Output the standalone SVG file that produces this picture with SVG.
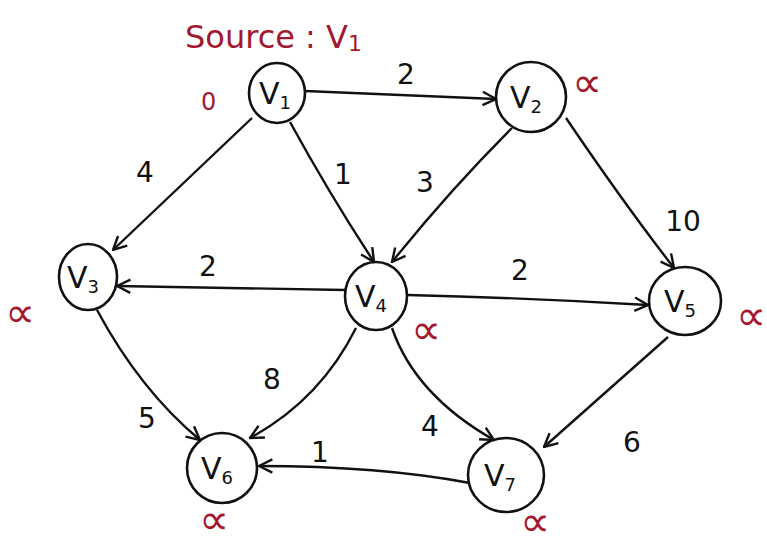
<svg xmlns="http://www.w3.org/2000/svg" width="767" height="548" viewBox="0 0 767 548">
<style>
.node{fill:none;stroke:#111;stroke-width:2.6}
.lbl{font-family:"DejaVu Sans",sans-serif;font-size:30px;fill:#111}
.sub{font-size:18px}
.edge{fill:none;stroke:#111;stroke-width:2.4;marker-end:url(#arr)}
.w{font-family:"DejaVu Sans",sans-serif;font-size:28px;fill:#111;text-anchor:middle}
.red{font-family:"DejaVu Sans",sans-serif;fill:#a3182f}
.inf{font-family:"DejaVu Sans",sans-serif;fill:#a3182f;font-size:42px}
</style>
<defs>
<marker id="arr" viewBox="0 0 12 12" refX="11" refY="6" markerWidth="16" markerHeight="16" markerUnits="userSpaceOnUse" orient="auto">
<path d="M1,1 L11,6 L1,11" fill="none" stroke="#111" stroke-width="1.8"/>
</marker>
</defs>
<rect width="767" height="548" fill="#fff"/>
<text class="red" x="185" y="48" font-size="32">Source  : V<tspan font-size="22" dy="3">1</tspan></text>
<text class="red" x="201" y="110" font-size="24">0</text>
<text class="inf" x="572" y="97">∝</text>
<text class="inf" x="5" y="327">∝</text>
<text class="inf" x="411" y="344">∝</text>
<text class="inf" x="736" y="330">∝</text>
<text class="inf" x="199" y="534">∝</text>
<text class="inf" x="520" y="536">∝</text>
<g id="connectors">
<path class="edge" d="M305,91 Q400,95 496,99"/>
<path class="edge" d="M252,118 L113,250"/>
<path class="edge" d="M290,122 Q330,195 374,262"/>
<path class="edge" d="M512,128 Q450,190 392,262"/>
<path class="edge" d="M566,118 Q625,205 674,268"/>
<path class="edge" d="M345,290 L117,286"/>
<path class="edge" d="M408,295 Q530,298 648,305"/>
<path class="edge" d="M97,310 Q140,390 200,440"/>
<path class="edge" d="M356,328 Q320,400 250,438"/>
<path class="edge" d="M392,328 Q415,395 494,440"/>
<path class="edge" d="M668,337 L544,447"/>
<path class="edge" d="M470,483 Q380,466 259,466"/>
<text class="w" x="406" y="84">2</text>
<text class="w" x="145" y="182">4</text>
<text class="w" x="343" y="184">1</text>
<text class="w" x="425" y="192">3</text>
<text class="w" x="683" y="231">10</text>
<text class="w" x="208" y="276">2</text>
<text class="w" x="520" y="280">2</text>
<text class="w" x="272" y="389">8</text>
<text class="w" x="147" y="428">5</text>
<text class="w" x="430" y="436">4</text>
<text class="w" x="320" y="462">1</text>
<text class="w" x="632" y="452" font-size="38">6</text>
</g>
<g id="v1"><ellipse class="node" cx="277" cy="93" rx="28" ry="30"/><text class="lbl" x="259" y="104">V<tspan class="sub" dy="5">1</tspan></text></g>
<g id="v2"><circle class="node" cx="531" cy="97" r="35"/><text class="lbl" x="510" y="108">V<tspan class="sub" dy="5">2</tspan></text></g>
<g id="v3"><ellipse class="node" cx="88" cy="277" rx="29" ry="33"/><text class="lbl" x="67" y="288">V<tspan class="sub" dy="5">3</tspan></text></g>
<g id="v4"><ellipse class="node" cx="376" cy="296" rx="31" ry="34"/><text class="lbl" x="355" y="307">V<tspan class="sub" dy="5">4</tspan></text></g>
<g id="v5"><ellipse class="node" cx="685" cy="301" rx="36" ry="34"/><text class="lbl" x="664" y="312">V<tspan class="sub" dy="5">5</tspan></text></g>
<g id="v6"><circle class="node" cx="222" cy="468" r="35"/><text class="lbl" x="201" y="479">V<tspan class="sub" dy="5">6</tspan></text></g>
<g id="v7"><ellipse class="node" cx="506" cy="475" rx="38" ry="37"/><text class="lbl" x="484" y="486">V<tspan class="sub" dy="5">7</tspan></text></g>
</svg>
